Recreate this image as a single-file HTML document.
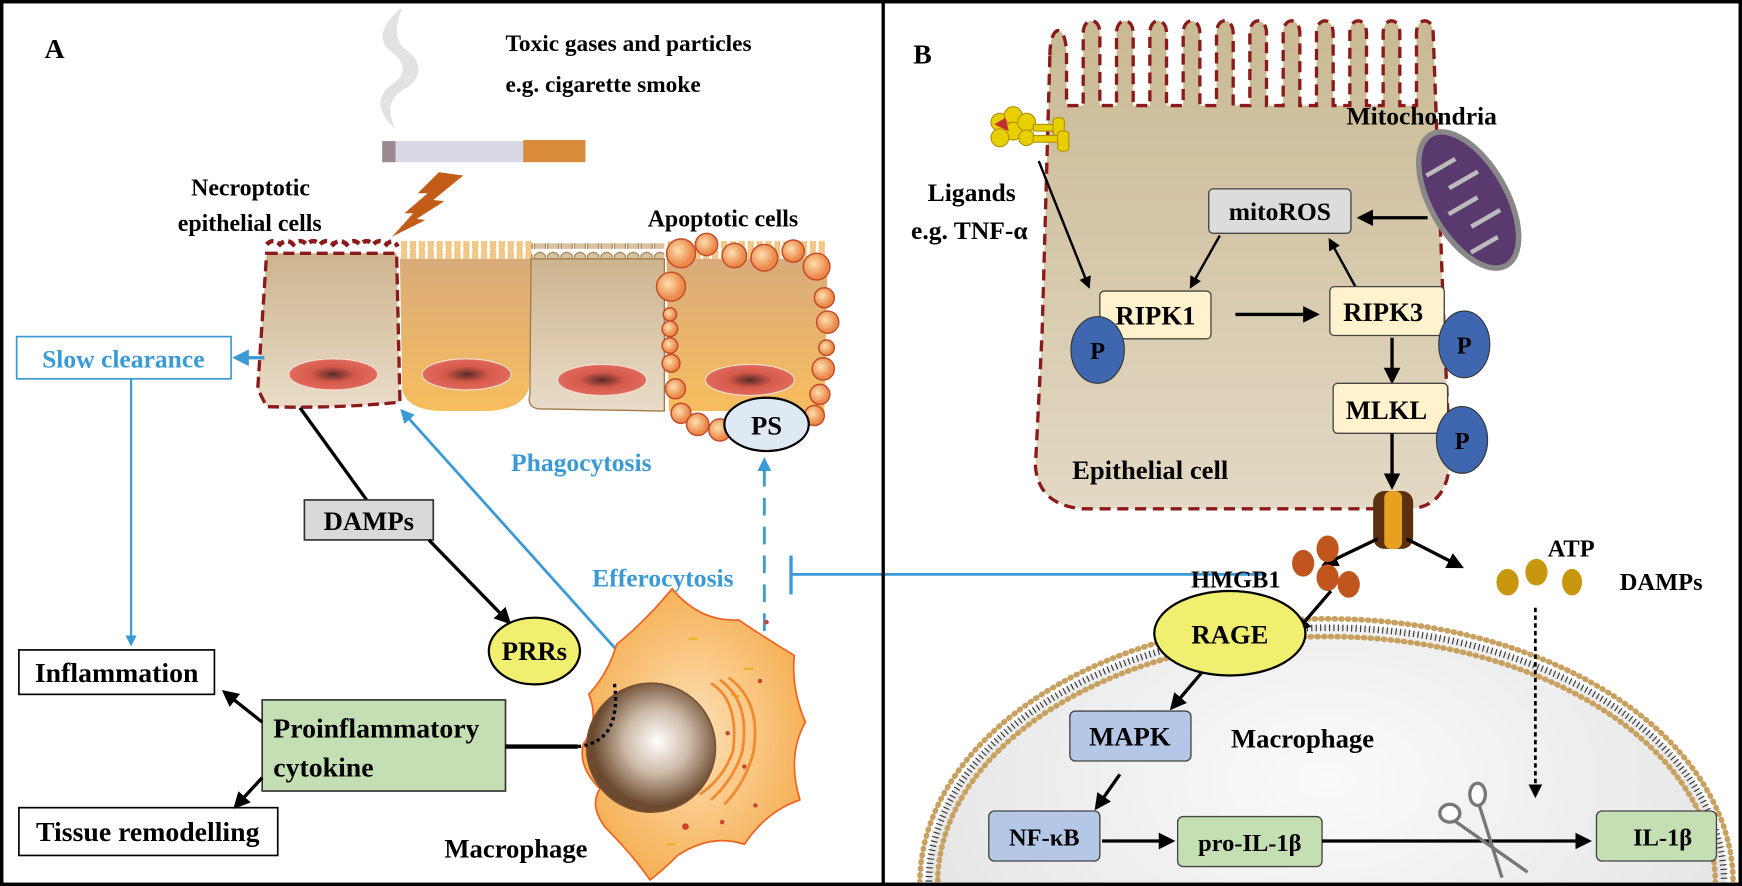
<!DOCTYPE html>
<html><head><meta charset="utf-8"><style>html,body{margin:0;padding:0;background:#fff;overflow:hidden;width:1742px;height:886px}svg{display:block}
text{font-family:"Liberation Serif",serif;font-weight:bold}</style></head><body>
<svg width="1742" height="886" viewBox="0 0 1568 797.5" xmlns="http://www.w3.org/2000/svg">
<defs>
<clipPath id="clipB"><rect x="797" y="0" width="768" height="794"/></clipPath>
<marker id="ab" viewBox="0 0 10 10" refX="8" refY="5" markerWidth="5" markerHeight="5" orient="auto-start-reverse"><path d="M0,0L10,5L0,10z" fill="#000"/></marker>
<marker id="abl" viewBox="0 0 10 10" refX="8" refY="5" markerWidth="5" markerHeight="5" orient="auto-start-reverse"><path d="M0,0L10,5L0,10z" fill="#3a9ad6"/></marker>
<linearGradient id="beige" x1="0" y1="0" x2="0" y2="1"><stop offset="0" stop-color="#cdb48f"/><stop offset="1" stop-color="#e9dcc8"/></linearGradient>
<linearGradient id="orng" x1="0" y1="0" x2="0" y2="1"><stop offset="0" stop-color="#d9ab7a"/><stop offset="1" stop-color="#f7bd5e"/></linearGradient>
<linearGradient id="cellB" x1="0" y1="0" x2="0" y2="1"><stop offset="0" stop-color="#c9b994"/><stop offset="1" stop-color="#e3d9c4"/></linearGradient>
<radialGradient id="nuc"><stop offset="0" stop-color="#5a2a2a"/><stop offset="0.5" stop-color="#d65a4a"/><stop offset="1" stop-color="#e06a5e"/></radialGradient>
<radialGradient id="bub" cx="0.4" cy="0.4"><stop offset="0" stop-color="#fde0b0"/><stop offset="1" stop-color="#ec8a4a"/></radialGradient>
<radialGradient id="mnuc" cx="0.55" cy="0.45"><stop offset="0" stop-color="#ffffff"/><stop offset="0.5" stop-color="#cdbba8"/><stop offset="1" stop-color="#6b4a30"/></radialGradient>
<radialGradient id="mac" cx="0.5" cy="0.5"><stop offset="0" stop-color="#fde2b8"/><stop offset="1" stop-color="#f6b25a"/></radialGradient>
<radialGradient id="mph" cx="0.5" cy="0.3" r="0.8"><stop offset="0" stop-color="#fafafa"/><stop offset="1" stop-color="#dcdcdc"/></radialGradient>
<pattern id="mv" width="8" height="16" patternUnits="userSpaceOnUse"><rect x="1.5" y="0" width="4.5" height="18" rx="2.2" fill="#f3c98d" stroke="#f0b860" stroke-width="0.8"/></pattern>
<pattern id="mv2" width="12" height="16" patternUnits="userSpaceOnUse"><path d="M1,16 V6 Q6,0 11,6 V16" fill="#d8c2a0" stroke="#a07a4a" stroke-width="1"/></pattern>
</defs>
<rect x="1.5" y="1.5" width="1565" height="794.5" fill="#fff" stroke="#000" stroke-width="3"/>

<!-- PANEL A -->
<text x="40" y="52" font-size="25">A</text>
<path d="M360,8 Q335,30 350,45 Q375,62 350,78 Q332,95 356,116 Q342,90 368,78 Q388,60 362,42 Q352,30 362,8z" fill="#e2e2e2"/>
<rect x="344" y="127" width="128" height="19" fill="#d8d8e6"/>
<rect x="344" y="127" width="12" height="19" fill="#9a8a90"/>
<rect x="471" y="126" width="56" height="20" fill="#d98a3a"/>
<path d="M395,155 L417,158 L390,180 L400,181 L375,197 L383,198 L353,213 L372,192 L364,192 L385,174 L376,174z" fill="#c25c18"/>
<text x="455" y="46" font-size="21">Toxic gases and particles</text>
<text x="455" y="83" font-size="21">e.g. cigarette smoke</text>
<text x="172" y="176" font-size="21.5">Necroptotic</text>
<text x="160" y="208" font-size="21.5">epithelial cells</text>
<text x="583" y="204" font-size="21.5">Apoptotic cells</text>

<!-- cells -->
<rect x="360" y="217" width="120" height="16" fill="url(#mv)"/>
<rect x="478" y="219" width="120" height="14" fill="url(#mv2)"/>
<rect x="600" y="217" width="145" height="16" fill="url(#mv)"/>
<path d="M240,228 L357,228 L360,362 Q300,368 240,366 L232,350z" fill="url(#beige)"/>
<path d="M240,228 L357,228 L360,362 Q300,368 240,366 L232,350z" fill="none" stroke="#8b1a1a" stroke-width="3" stroke-dasharray="10,5"/>
<path d="M240,220 q6,-6 12,0 q6,-6 12,0 q6,-6 12,0 q6,-6 12,0 q6,-6 12,0 q6,-6 12,0 q6,-6 12,0 q6,-6 12,0 q6,-6 12,0 q6,-6 10,2" fill="none" stroke="#8b1a1a" stroke-width="4" stroke-dasharray="7,4"/>
<path d="M360,233 L480,233 L476,350 Q470,368 440,370 L395,370 Q365,368 362,350z" fill="url(#orng)"/>
<path d="M478,233 L598,233 L598,370 L484,368 Q474,366 477,355z" fill="url(#beige)" stroke="#a07a4a" stroke-width="1.2"/>
<path d="M600,233 L745,233 L742,370 L602,370z" fill="url(#orng)"/>
<ellipse cx="300" cy="337" rx="40" ry="14" fill="url(#nuc)" stroke="#f5e0d0"/>
<ellipse cx="420" cy="337" rx="40" ry="14" fill="url(#nuc)" stroke="#f5e0d0"/>
<ellipse cx="542" cy="342" rx="40" ry="14" fill="url(#nuc)" stroke="#f5e0d0"/>
<ellipse cx="675" cy="342" rx="40" ry="14" fill="url(#nuc)" stroke="#f5e0d0"/>
<g fill="url(#bub)" stroke="#c24a2a" stroke-width="1.3">
<circle cx="613" cy="228" r="13"/><circle cx="636" cy="220" r="10"/><circle cx="661" cy="230" r="11"/><circle cx="688" cy="232" r="12"/><circle cx="714" cy="226" r="10"/><circle cx="735" cy="240" r="12"/>
<circle cx="604" cy="258" r="13"/><circle cx="603" cy="283" r="6"/><circle cx="603" cy="296" r="7"/><circle cx="603" cy="311" r="7"/><circle cx="604" cy="327" r="8"/><circle cx="608" cy="350" r="9"/><circle cx="613" cy="372" r="9"/><circle cx="628" cy="382" r="10"/><circle cx="648" cy="387" r="10"/>
<circle cx="742" cy="268" r="9"/><circle cx="745" cy="290" r="10"/><circle cx="744" cy="313" r="7"/><circle cx="741" cy="332" r="10"/><circle cx="738" cy="355" r="9"/><circle cx="733" cy="374" r="9"/>
</g>
<ellipse cx="690" cy="382" rx="38" ry="24" fill="#dfe9f3" stroke="#000" stroke-width="2"/>
<text x="690" y="391" font-size="24" text-anchor="middle">PS</text>

<!-- slow clearance -->
<rect x="15" y="303" width="193" height="38" fill="#fff" stroke="#3a9ad6" stroke-width="1.5"/>
<text x="111" y="331" font-size="23" fill="#3a9ad6" text-anchor="middle">Slow clearance</text>
<line x1="238" y1="322" x2="212" y2="322" stroke="#3a9ad6" stroke-width="3" marker-end="url(#abl)"/>
<line x1="118" y1="341" x2="118" y2="580" stroke="#3a9ad6" stroke-width="2" marker-end="url(#abl)"/>
<rect x="17" y="585" width="176" height="40" fill="#fff" stroke="#000" stroke-width="1.5"/>
<text x="105" y="614" font-size="25" text-anchor="middle">Inflammation</text>
<rect x="17" y="727" width="233" height="43" fill="#fff" stroke="#000" stroke-width="1.5"/>
<text x="133" y="757" font-size="25" text-anchor="middle">Tissue remodelling</text>
<rect x="236" y="630" width="219" height="82" fill="#c5dfb4" stroke="#333" stroke-width="1.5"/>
<text x="246" y="664" font-size="25">Proinflammatory</text>
<text x="246" y="699" font-size="25">cytokine</text>
<line x1="236" y1="650" x2="202" y2="623" stroke="#000" stroke-width="3" marker-end="url(#ab)"/>
<line x1="236" y1="700" x2="212" y2="726" stroke="#000" stroke-width="3" marker-end="url(#ab)"/>

<!-- DAMPs -->
<line x1="270" y1="367" x2="330" y2="450" stroke="#000" stroke-width="3"/>
<rect x="274" y="450" width="116" height="36" fill="#d9d9d9" stroke="#333" stroke-width="1.5"/>
<text x="332" y="477" font-size="24" text-anchor="middle">DAMPs</text>
<line x1="386" y1="486" x2="458" y2="560" stroke="#000" stroke-width="3" marker-end="url(#ab)"/>

<!-- phagocytosis -->
<line x1="555" y1="585" x2="362" y2="370" stroke="#3a9ad6" stroke-width="2.5" marker-end="url(#abl)"/>
<text x="460" y="424" font-size="23" fill="#3a9ad6">Phagocytosis</text>
<text x="533" y="528" font-size="23" fill="#3a9ad6">Efferocytosis</text>
<line x1="688" y1="620" x2="688" y2="414" stroke="#3a9ad6" stroke-width="2.5" stroke-dasharray="16,10" marker-end="url(#abl)"/>

<!-- macrophage A -->
<path d="M555,580 Q580,560 605,530 Q630,560 665,558 Q690,575 715,590 Q712,620 725,650 Q708,680 720,720 Q690,730 670,760 Q640,750 610,770 Q595,785 585,792 Q570,770 545,745 Q530,725 540,710 Q520,690 525,670 Q540,650 530,625 Q548,605 555,580z" fill="url(#mac)" stroke="#f06020" stroke-width="1.5"/>
<g fill="#d04030"><circle cx="690" cy="560" r="2"/><circle cx="684" cy="613" r="2"/><circle cx="555" cy="657" r="2.5"/><circle cx="617" cy="744" r="3"/><circle cx="650" cy="740" r="2"/><circle cx="655" cy="660" r="2"/><circle cx="670" cy="690" r="2"/><circle cx="680" cy="725" r="2"/></g>
<g stroke="#e8b020" stroke-width="2"><line x1="620" y1="575" x2="628" y2="575"/><line x1="670" y1="602" x2="678" y2="602"/><line x1="555" y1="705" x2="563" y2="706"/><line x1="590" y1="717" x2="597" y2="717"/><line x1="600" y1="760" x2="608" y2="760"/><line x1="658" y1="625" x2="666" y2="627"/></g>
<path d="M640,615 q25,15 20,60 q-8,25 -30,40 M648,612 q28,20 20,65 q-8,25 -28,43 M656,610 q30,22 22,68 q-8,28 -26,46" fill="none" stroke="#f08a30" stroke-width="2.5"/>
<circle cx="586" cy="673" r="58" fill="url(#mnuc)" stroke="#7a5030" stroke-width="1.5"/>
<path d="M455,672 L520,672" stroke="#000" stroke-width="4"/>
<path d="M520,672 Q560,668 553,615" fill="none" stroke="#000" stroke-width="3" stroke-dasharray="3,3"/>
<ellipse cx="481" cy="586" rx="41" ry="30" fill="#f0ef70" stroke="#000" stroke-width="2"/>
<text x="481" y="594" font-size="24" text-anchor="middle">PRRs</text>
<text x="400" y="772" font-size="24">Macrophage</text>

<!-- inhibition -->
<line x1="712" y1="517" x2="1140" y2="517" stroke="#3a9ad6" stroke-width="2.5"/>
<line x1="712" y1="500" x2="712" y2="535" stroke="#3a9ad6" stroke-width="3"/>

<!-- PANEL B -->
<text x="822" y="57" font-size="25">B</text>
<path d="M945,50 C945,20 960,20 960,50 L960,95 L975,95 L975,30 C975,15 990,15 990,30 L990,95 L1005,95 L1005,30 C1005,15 1020,15 1020,30 L1020,95 L1035,95 L1035,30 C1035,15 1050,15 1050,30 L1050,95 L1065,95 L1065,30 C1065,15 1080,15 1080,30 L1080,95 L1095,95 L1095,30 C1095,15 1110,15 1110,30 L1110,95 L1125,95 L1125,30 C1125,15 1140,15 1140,30 L1140,95 L1155,95 L1155,30 C1155,15 1170,15 1170,30 L1170,95 L1185,95 L1185,30 C1185,15 1200,15 1200,30 L1200,95 L1215,95 L1215,30 C1215,15 1230,15 1230,30 L1230,95 L1245,95 L1245,30 C1245,15 1260,15 1260,30 L1260,95 L1275,95 L1275,30 C1275,15 1290,15 1290,30 L1300,300 L1305,410 Q1305,455 1270,458 L975,458 Q935,455 932,420 L938,300z" fill="url(#cellB)" stroke="#8b1a1a" stroke-width="3" stroke-dasharray="10,6"/>
<g fill="#e8d000" stroke="#b09000" stroke-width="1"><circle cx="900" cy="110" r="8"/><circle cx="912" cy="104" r="8"/><circle cx="912" cy="118" r="8"/><circle cx="924" cy="110" r="8"/><circle cx="924" cy="124" r="7"/><circle cx="900" cy="124" r="8"/><rect x="930" y="112" width="22" height="6"/><rect x="930" y="122" width="22" height="6"/><rect x="948" y="106" width="10" height="16" rx="3"/><rect x="952" y="118" width="10" height="18" rx="3"/></g>
<path d="M895,112 L905,106 L908,118z" fill="#c03030"/>
<text x="835" y="181" font-size="23">Ligands</text>
<text x="820" y="215" font-size="23">e.g. TNF-α</text>
<text x="1212" y="112" font-size="23">Mitochondria</text>
<g transform="rotate(-30 1322 180)"><ellipse cx="1322" cy="180" rx="34" ry="68" fill="#5a3a6e" stroke="#888" stroke-width="5"/>
<path d="M1300,142 h30 M1312,162 h30 M1300,182 h30 M1312,202 h30 M1300,222 h28" stroke="#bbb" stroke-width="4"/></g>
<rect x="1088" y="170" width="128" height="40" rx="4" fill="#dcdcdc" stroke="#444" stroke-width="1.2"/>
<text x="1152" y="198" font-size="23" text-anchor="middle">mitoROS</text>
<line x1="1285" y1="196" x2="1224" y2="196" stroke="#000" stroke-width="3" marker-end="url(#ab)"/>
<line x1="935" y1="145" x2="980" y2="258" stroke="#000" stroke-width="2.2" marker-end="url(#ab)"/>
<line x1="1098" y1="212" x2="1072" y2="258" stroke="#000" stroke-width="2.2" marker-end="url(#ab)"/>
<line x1="1220" y1="258" x2="1197" y2="216" stroke="#000" stroke-width="2.2" marker-end="url(#ab)"/>
<rect x="990" y="262" width="100" height="43" rx="4" fill="#fff2cc" stroke="#444" stroke-width="1.2"/>
<text x="1040" y="292" font-size="24" text-anchor="middle">RIPK1</text>
<ellipse cx="988" cy="315" rx="24" ry="30" fill="#3f67b0" stroke="#333"/>
<text x="988" y="323" font-size="22" text-anchor="middle">P</text>
<line x1="1112" y1="283" x2="1185" y2="283" stroke="#000" stroke-width="3" marker-end="url(#ab)"/>
<rect x="1197" y="258" width="103" height="44" rx="4" fill="#fff2cc" stroke="#444" stroke-width="1.2"/>
<text x="1245" y="289" font-size="24" text-anchor="middle">RIPK3</text>
<ellipse cx="1318" cy="310" rx="23" ry="30" fill="#3f67b0" stroke="#333"/>
<text x="1318" y="318" font-size="22" text-anchor="middle">P</text>
<line x1="1253" y1="304" x2="1253" y2="343" stroke="#000" stroke-width="3" marker-end="url(#ab)"/>
<rect x="1200" y="345" width="103" height="45" rx="4" fill="#fff2cc" stroke="#444" stroke-width="1.2"/>
<text x="1248" y="377" font-size="24" text-anchor="middle">MLKL</text>
<ellipse cx="1316" cy="396" rx="23" ry="30" fill="#3f67b0" stroke="#333"/>
<text x="1316" y="404" font-size="22" text-anchor="middle">P</text>
<line x1="1253" y1="390" x2="1253" y2="438" stroke="#000" stroke-width="3" marker-end="url(#ab)"/>
<text x="965" y="431" font-size="24">Epithelial cell</text>
<!-- channel -->
<rect x="1236" y="442" width="36" height="52" rx="10" fill="#5a3010"/>
<rect x="1246" y="442" width="16" height="52" rx="6" fill="#e8a020"/>
<line x1="1240" y1="485" x2="1192" y2="508" stroke="#000" stroke-width="3" marker-end="url(#ab)"/>
<line x1="1266" y1="485" x2="1315" y2="510" stroke="#000" stroke-width="3" marker-end="url(#ab)"/>
<g clip-path="url(#clipB)">
<ellipse cx="1194" cy="795" rx="360" ry="232" fill="url(#mph)"/>
<ellipse cx="1194" cy="795" rx="366" ry="238" fill="none" stroke="#c8a060" stroke-width="5" stroke-dasharray="1,5" stroke-linecap="round"/>
<ellipse cx="1194" cy="795" rx="358" ry="230" fill="none" stroke="#333" stroke-width="6" stroke-dasharray="1,3"/>
<ellipse cx="1194" cy="795" rx="350" ry="222" fill="none" stroke="#c8a060" stroke-width="5" stroke-dasharray="1,5" stroke-linecap="round"/>
</g>
<text x="1072" y="529" font-size="22">HMGB1</text>
<g fill="#c0561e"><ellipse cx="1173" cy="507" rx="10" ry="12"/><ellipse cx="1195" cy="494" rx="10" ry="12"/><ellipse cx="1195" cy="520" rx="10" ry="12"/><ellipse cx="1214" cy="526" rx="10" ry="12"/></g>
<text x="1393" y="501" font-size="22">ATP</text>
<text x="1458" y="531" font-size="22">DAMPs</text>
<g fill="#c9970e"><ellipse cx="1357" cy="524" rx="10" ry="12"/><ellipse cx="1383" cy="515" rx="10" ry="12"/><ellipse cx="1415" cy="524" rx="9" ry="12"/></g>
<line x1="1198" y1="532" x2="1167" y2="568" stroke="#000" stroke-width="3" marker-end="url(#ab)"/>
<ellipse cx="1107" cy="570" rx="68" ry="38" fill="#f0ef70" stroke="#000" stroke-width="2"/>
<text x="1107" y="579" font-size="24" text-anchor="middle">RAGE</text>
<line x1="1082" y1="605" x2="1055" y2="637" stroke="#000" stroke-width="3" marker-end="url(#ab)"/>
<rect x="963" y="640" width="109" height="45" rx="5" fill="#b4c7e7" stroke="#444" stroke-width="1.2"/>
<text x="1017" y="671" font-size="24" text-anchor="middle">MAPK</text>
<text x="1108" y="673" font-size="24">Macrophage</text>
<line x1="1008" y1="697" x2="987" y2="727" stroke="#000" stroke-width="3" marker-end="url(#ab)"/>
<rect x="890" y="730" width="100" height="45" rx="5" fill="#b4c7e7" stroke="#444" stroke-width="1.2"/>
<text x="940" y="761" font-size="22" text-anchor="middle">NF-κB</text>
<line x1="992" y1="757" x2="1055" y2="757" stroke="#000" stroke-width="3" marker-end="url(#ab)"/>
<rect x="1060" y="735" width="130" height="45" rx="5" fill="#c5dfb4" stroke="#444" stroke-width="1.2"/>
<text x="1125" y="766" font-size="22" text-anchor="middle">pro-IL-1β</text>
<line x1="1190" y1="757" x2="1430" y2="757" stroke="#000" stroke-width="3" marker-end="url(#ab)"/>
<rect x="1437" y="730" width="108" height="45" rx="5" fill="#c5dfb4" stroke="#444" stroke-width="1.2"/>
<text x="1470" y="761" font-size="22">IL-1β</text>
<line x1="1382" y1="547" x2="1382" y2="716" stroke="#000" stroke-width="2.5" stroke-dasharray="4,3" marker-end="url(#ab)"/>
<g stroke="#777" stroke-width="3" fill="#fff"><line x1="1330" y1="720" x2="1352" y2="790"/><line x1="1308" y1="738" x2="1375" y2="785"/><ellipse cx="1330" cy="715" rx="7" ry="10"/><ellipse cx="1305" cy="732" rx="9" ry="8"/></g>
<line x1="795" y1="0" x2="795" y2="797" stroke="#000" stroke-width="3"/>
<rect x="1.5" y="1.5" width="1565" height="794.5" fill="none" stroke="#000" stroke-width="3"/>
</svg>
</body></html>
